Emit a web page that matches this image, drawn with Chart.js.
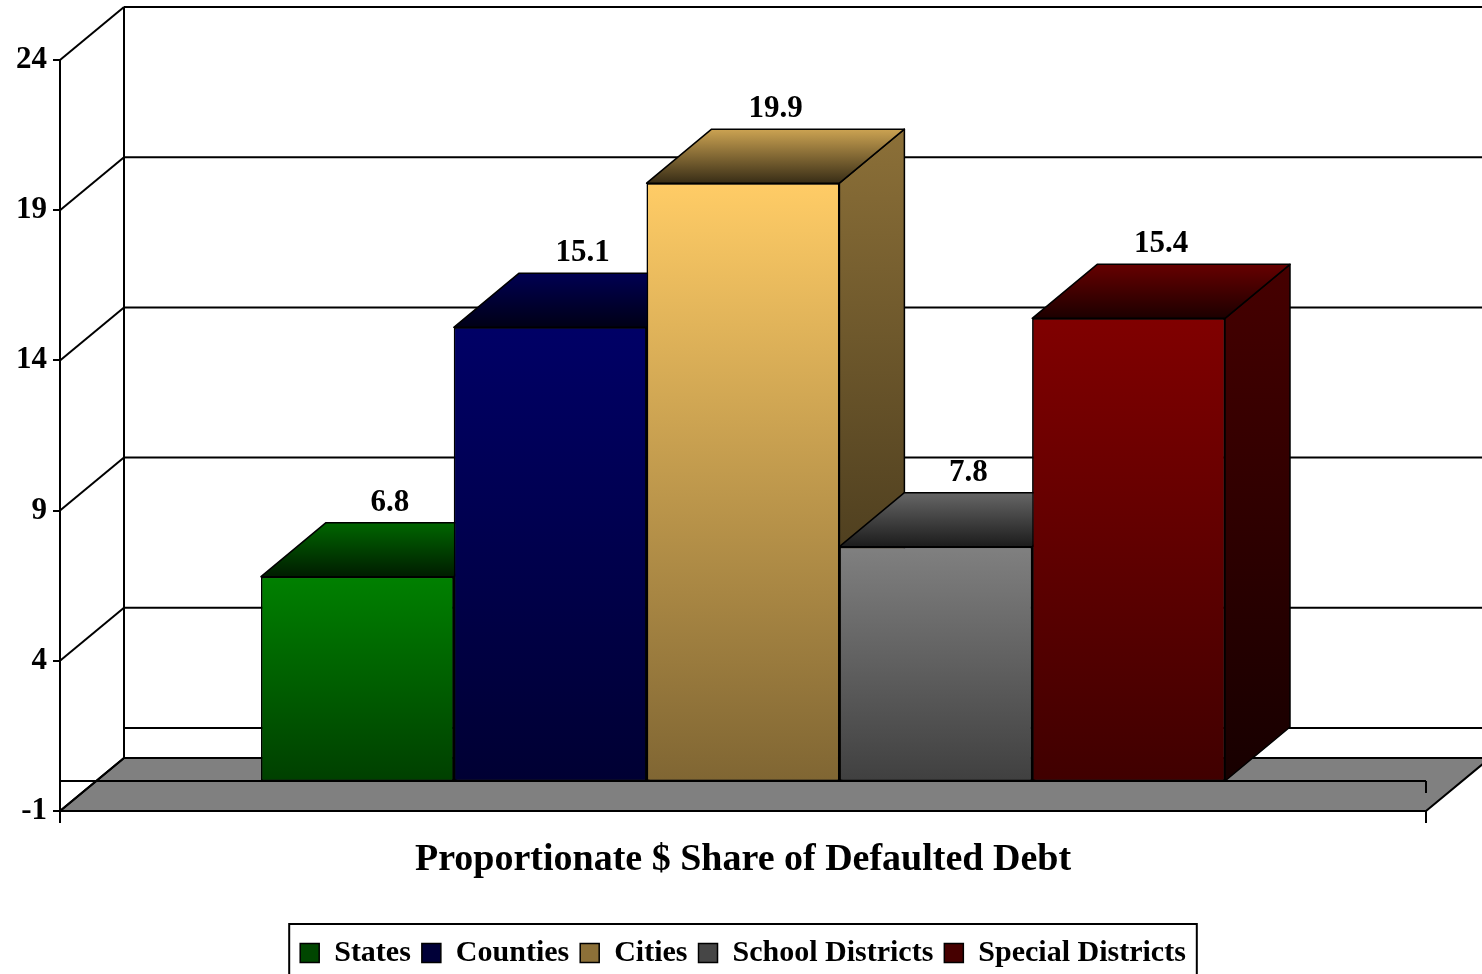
<!DOCTYPE html>
<html><head><meta charset="utf-8">
<script src="https://cdn.jsdelivr.net/npm/chart.js@4/dist/chart.umd.min.js"></script>
<style>html,body{margin:0;padding:0;background:#fff;overflow:hidden}
#wrap{width:1482px;height:978px;position:relative}</style>
</head><body><div id="wrap"><canvas id="c"></canvas></div>
<script>
const categories = ['Proportionate $ Share of Defaulted Debt'];
const seriesNames = ['States', 'Counties', 'Cities', 'School Districts', 'Special Districts'];
const statesValues = [6.8];
const countiesValues = [15.1];
const citiesValues = [19.9];
const schoolValues = [7.8];
const specialValues = [15.4];
const seriesValues = [statesValues, countiesValues, citiesValues, schoolValues, specialValues];
const seriesColors = [[0,128,0],[0,0,102],[255,204,102],[128,128,128],[128,0,0]];
const yMin = -1, yMax = 24, yStep = 5;

const FONT = "'Liberation Serif','Times New Roman',serif";
const WDX = 64, WDY = -53;   // wall depth
const BDX = 65, BDY = -54;   // bar depth

function rgb(c, f) { return 'rgb(' + Math.round(c[0]*f) + ',' + Math.round(c[1]*f) + ',' + Math.round(c[2]*f) + ')'; }
function line(ctx, x1, y1, x2, y2) { ctx.beginPath(); ctx.moveTo(x1, y1); ctx.lineTo(x2, y2); ctx.stroke(); }

const threeD = {
  id: 'threeD',
  beforeDatasetsDraw(chart) {
    const {ctx, chartArea: {left, right, top}, scales: {y}} = chart;
    ctx.save();
    ctx.strokeStyle = '#000'; ctx.lineWidth = 2;
    const yb = y.getPixelForValue(y.min);
    ctx.beginPath();
    ctx.moveTo(left, yb); ctx.lineTo(right, yb); ctx.lineTo(right + WDX, yb + WDY); ctx.lineTo(left + WDX, yb + WDY);
    ctx.closePath();
    ctx.fillStyle = '#808080'; ctx.fill(); ctx.stroke();
    y.ticks.forEach(t => {
      const py = y.getPixelForValue(t.value);
      if (t.value !== y.min) line(ctx, left + WDX, py + WDY, right + WDX + 40, py + WDY);
      line(ctx, left, py, left + WDX, py + WDY);
    });
    line(ctx, left + WDX, top + WDY, left + WDX, yb + WDY);
    const y0 = y.getPixelForValue(0);
    line(ctx, left + WDX, y0 + WDY, right + WDX + 40, y0 + WDY);
    line(ctx, left, y0, right, y0);
    line(ctx, right, y0, right, y0 + 12);
    ctx.restore();
  },
  afterDatasetsDraw(chart) {
    const ctx = chart.ctx;
    chart.data.datasets.forEach((ds, i) => {
      const col = seriesColors[i];
      chart.getDatasetMeta(i).data.forEach(bar => {
        const {x, y, base, width} = bar.getProps(['x', 'y', 'base', 'width'], true);
        const l = x - width / 2, r = x + width / 2;
        ctx.save();
        ctx.strokeStyle = '#000'; ctx.lineWidth = 1.5; ctx.lineJoin = 'round';
        let g = ctx.createLinearGradient(0, y + BDY, 0, base);
        g.addColorStop(0, rgb(col, 0.55)); g.addColorStop(1, rgb(col, 0.18));
        ctx.beginPath();
        ctx.moveTo(r, y); ctx.lineTo(r + BDX, y + BDY); ctx.lineTo(r + BDX, base + BDY); ctx.lineTo(r, base);
        ctx.closePath(); ctx.fillStyle = g; ctx.fill(); ctx.stroke();
        g = ctx.createLinearGradient(0, y + BDY, 0, y);
        g.addColorStop(0, rgb(col, 0.8)); g.addColorStop(1, rgb(col, 0.22));
        ctx.beginPath();
        ctx.moveTo(l, y); ctx.lineTo(r, y); ctx.lineTo(r + BDX, y + BDY); ctx.lineTo(l + BDX, y + BDY);
        ctx.closePath(); ctx.fillStyle = g; ctx.fill(); ctx.stroke();
        ctx.restore();
        bar.draw(ctx);
      });
    });
    ctx.save();
    ctx.font = 'bold 31px ' + FONT;
    ctx.fillStyle = '#000'; ctx.textAlign = 'center'; ctx.textBaseline = 'alphabetic';
    chart.data.datasets.forEach((ds, i) => {
      chart.getDatasetMeta(i).data.forEach((bar, j) => {
        const {x, y} = bar.getProps(['x', 'y'], true);
        ctx.fillText(String(ds.data[j]), x + BDX / 2, y + BDY - 12);
      });
    });
    ctx.restore();
  },
  afterDraw(chart) {
    const lg = chart.legend;
    if (!lg || !lg.legendHitBoxes || !lg.legendHitBoxes.length) return;
    const hb = lg.legendHitBoxes;
    const l = hb[0].left - 11;
    const last = hb[hb.length - 1];
    const r = last.left + last.width + 11;
    const cy = hb[0].top + hb[0].height / 2;
    const ctx = chart.ctx;
    ctx.save();
    ctx.strokeStyle = '#000'; ctx.lineWidth = 2;
    ctx.strokeRect(l, cy - 29, r - l, 100);
    ctx.restore();
  }
};

const datasets = seriesNames.map((name, i) => ({
  label: name,
  data: seriesValues[i],
  borderColor: '#000',
  borderWidth: 1.5,
  borderSkipped: false,
  backgroundColor: (c) => {
    const ch = c.chart, ys = ch.scales && ch.scales.y;
    const col = seriesColors[i];
    if (!ch.chartArea || !ys) return rgb(col, 1);
    const top = ys.getPixelForValue(seriesValues[i][0]);
    const bot = ys.getPixelForValue(0);
    const g = ch.ctx.createLinearGradient(0, top, 0, bot);
    g.addColorStop(0, rgb(col, 1)); g.addColorStop(1, rgb(col, 0.5));
    return g;
  }
}));

function legendFill(chart, i) {
  const col = seriesColors[i];
  const lg = chart.legend;
  if (lg && lg.legendHitBoxes && lg.legendHitBoxes[i]) {
    const hb = lg.legendHitBoxes[i];
    const cy = hb.top + hb.height / 2;
    const g = chart.ctx.createLinearGradient(0, cy - 10, 0, cy + 10);
    g.addColorStop(0, rgb(col, 1)); g.addColorStop(1, rgb(col, 0.55));
    return g;
  }
  return rgb(col, 0.8);
}

new Chart(document.getElementById('c'), {
  type: 'bar',
  data: { labels: categories, datasets },
  options: {
    responsive: true,
    maintainAspectRatio: false,
    animation: false,
    datasets: { bar: { categoryPercentage: 964 / 1366, barPercentage: 1 } },
    layout: { padding: { top: 60, right: 56, left: 0, bottom: 0 } },
    plugins: {
      tooltip: { enabled: false },
      legend: {
        position: 'bottom',
        fullSize: false,
        labels: {
          color: '#000',
          font: { family: FONT, size: 30, weight: 'bold' },
          boxWidth: 19, boxHeight: 19, padding: 11,
          generateLabels: (chart) => seriesNames.map((n, i) => ({
            text: n, fillStyle: legendFill(chart, i), strokeStyle: '#000', lineWidth: 1.5,
            hidden: false, datasetIndex: i, fontColor: '#000'
          }))
        }
      }
    },
    scales: {
      x: {
        grid: { display: true, drawOnChartArea: false, drawTicks: true, tickLength: 12, color: '#000', lineWidth: 2, offset: true },
        border: { display: true, color: '#000', width: 2 },
        ticks: { color: '#000', font: { family: FONT, size: 38, weight: 'bold' }, padding: 14 },
        afterFit: (s) => { s.height = 116; }
      },
      y: {
        min: yMin, max: yMax,
        grid: { display: true, drawOnChartArea: false, drawTicks: true, tickLength: 7, color: '#000', lineWidth: 2 },
        border: { display: true, color: '#000', width: 2 },
        ticks: { stepSize: yStep, color: '#000', font: { family: FONT, size: 31, weight: 'bold' }, padding: 6 },
        afterFit: (s) => { s.width = 60; }
      }
    }
  },
  plugins: [threeD]
});
</script></body></html>
